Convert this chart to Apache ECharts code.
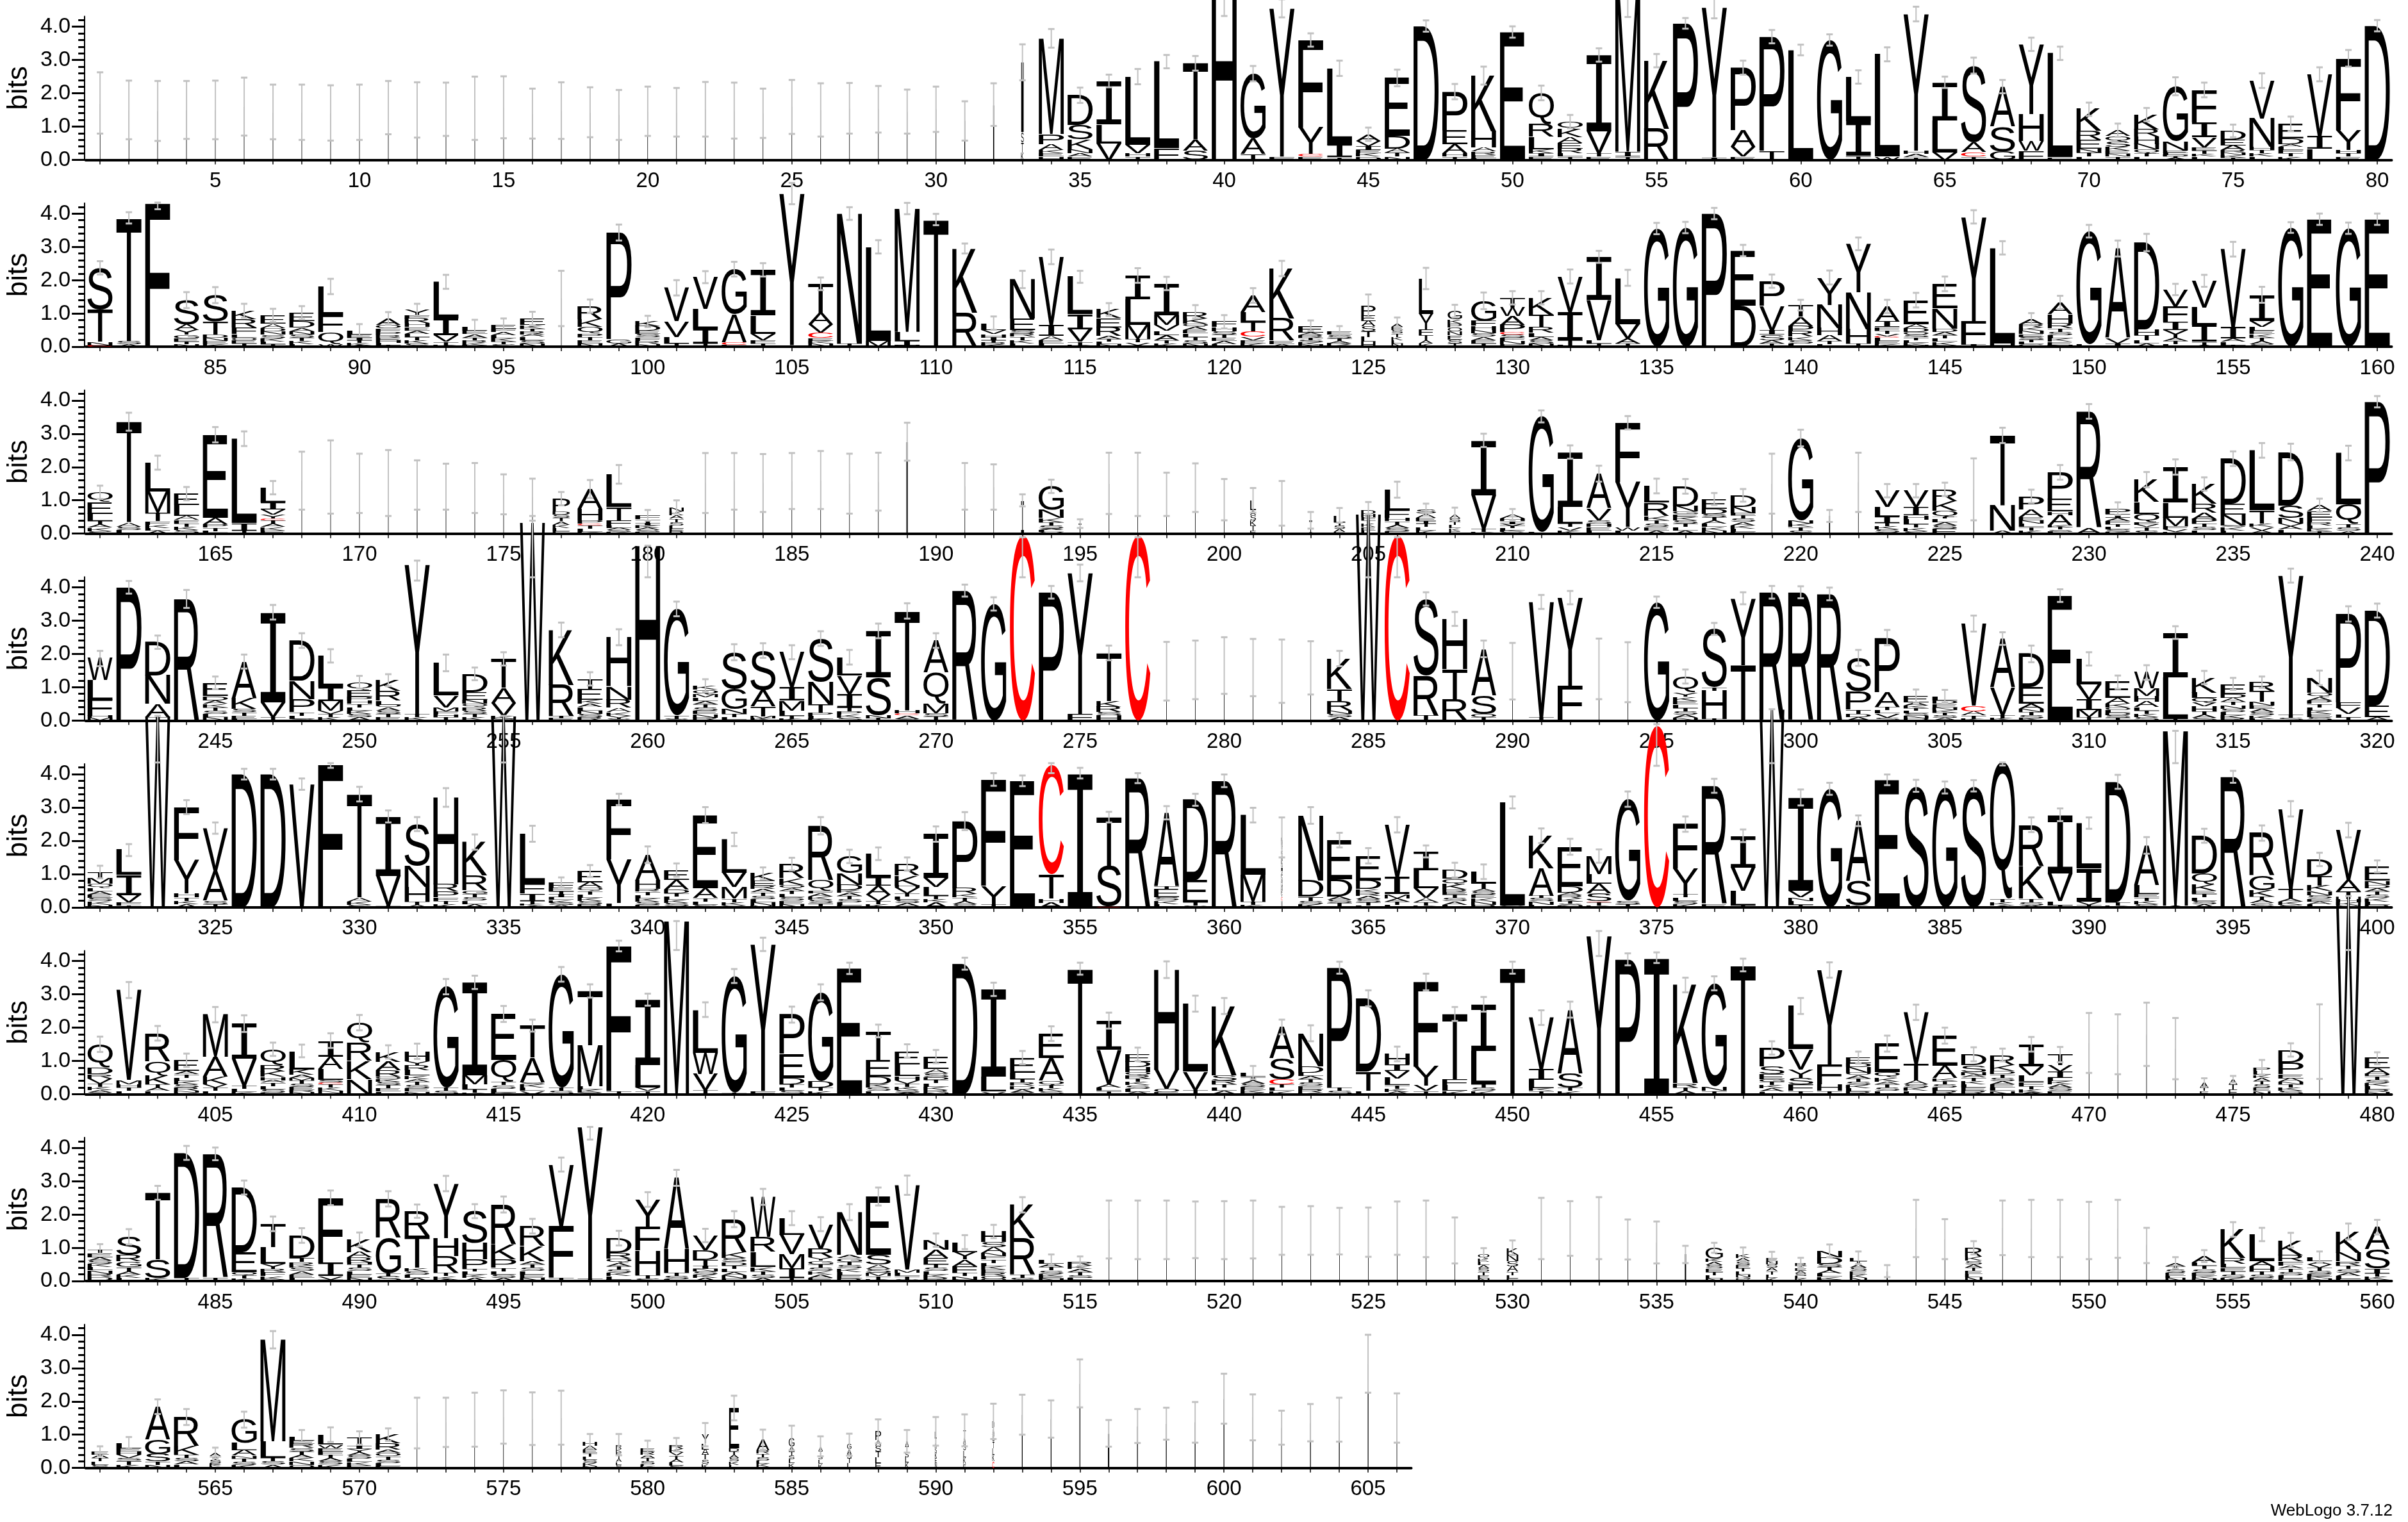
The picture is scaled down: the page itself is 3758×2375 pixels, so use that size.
<!DOCTYPE html>
<html><head><meta charset="utf-8">
<style>html,body{margin:0;padding:0;background:#fff}#c{width:3758px;height:2375px}</style>
<script src="https://cdn.jsdelivr.net/npm/echarts@6/dist/echarts.min.js"></script>
</head><body><div id="c"></div>
<script>
// Each column: letters top-to-bottom with height in bits; e = error half-width, h = explicit upper cap, w = column width fraction.
const row1 = ["I1.71e.92w.02","I1.5e.88w.02","I1.47e.9w.02","I1.5e.87w.02","I1.5e.88w.02","I1.6e.87w.02","I1.44e.82w.02","I1.43e.83w.02","I1.41e.83w.02","I1.43e.83w.02","I1.57e.8w.02","I1.5e.83w.02","I1.52e.8w.02","I1.55e.95w.02","I1.58e.93w.02","I1.39e.75w.02","I1.48e.85w.02","I1.43e.75w.02","I1.35e.75w.02","I1.46e.74w.02","I1.43e.73w.02","I1.52e.82w.02","I1.48e.84w.02","I1.4e.74w.02","I1.59e.81w.02","I1.5e.8w.02","I1.55e.76w.02","I1.52e.7w.02","I1.45e.66w.02","I1.52e.68w.02","I1.17e.59w.03","I1.66e.64w.04","I2.1S.3T.3K.23e.54w.09",
"M2.87P.3A.18K.1E.1H.1e.28","D.9S.42K.3N.12A.1E.1e.23","I1.3L.57V.5e.19","L2.05V.25H.1T.1e.23","L2.6F.35e.2","T2.3A.32S.28e.22","H5.15e.83h5.15","G1.95A.47T.17e.23","Y4.45F.1e.27","F2.62Y.8C.08E.1e.2","L2.3I.37T.08e.23","A.2V.15I.12E.1K.1D.1e.2","E1.74D.38A.12T.12N.1e.25","D4.02e.17","P1.15E.42A.28H.1T.1e.23","K1.67H.48A.13R.1E.1L.05e.27","E3.84e.17","Q.92R.4L.37K.12I.1E.1e.22","Q.22K.25A.17E.17R.14L.1T.1e.2","I2.3V.65T.1E.1e.2","M4.7I.15T.1e.66h5","K2.04R.94e.2","P4.1e.16","Y4.5I.08e.33","P1.87A.5V.3E.1e.21","P3.42T.28e.2","L3.3e.16","G3.6e.17","L1.32I1.05T.12e.2","L3.07W.1e.21","Y4.1H.1A.1T.08e.22","I1.15L.95V.23e.17","S2.3A.3C.13T.1e.24","A1.2S.75G.25e.2","Y2.1H.8W.3F.27e.2","L3.12E.08e.2","K.65R.27E.26N.12T.12L.1e.2","A.17Q.17S.15K.12E.1N.08T.1e.2","K.44R.22H.22N.16Q.12T.1L.1e.2","G1.65N.28E.07L.06D.05T.05A.05e.27","F.97I.45V.3E.1T.1K.08L.1e.22","D.27E.16A.14R.08N.08K.07T.07e.19","V1.13N.85H.1T.1K.1L.1e.22","E.44D.17A.07L.1F.1T.1K.1e.22","V1.87I.37L.33e.21","F2.15Y.6H.1T.1E.1e.25","D4.03e.17"];
const row2 = ["S1.25T.97N.1C.05e.2","T3.7S.1A.07e.17","F4.3e.17h4.33","S.73A.17Y.14G.1E.1T.08N.08e.24","S.78T.4D.1N.09E.1K.08e.24","K.25R.25F.2L.1O.08E.1T.1e.21","E.25A.13D.1N.1S.1K.1L.08T.08e.2","E.25D.2A.1N.1S.1T.1K.09L.08e.2","L.87F.5Q.36W.08e.23","L.13E.1I.08T.08K.06A.05e.18","A.2O.1F.1P.1R.08E.08H.08L.06T.05e.19","Y.16F.1R.14H.12E.1A.1L.1T.1K.1S.09e.18","L1.1I.5V.2T.1K.05e.21","L.13E.1A.1T.08R.08K.07F.05e.2","E.13F.1A.1L.1K.1T.08S.07e.17","E.2K.1T.08R.1A.07L.1S.1N.1e.2","I1.45e.83w.02","R.4K.22Q.2P.1T.1E.1N.1e.2","P3.2G.13A.1e.24","K.14D.14E.1S.1F.1R.1N.08e.17","V1V.47L.2T.1e.23","V.96L.58I.45T.1e.18","G1.35A.85C.08F.05e.22","I1.37L.55V.19F.1T.1e.2","Y4.55I.05e.32","T.87A.35V.25C.16E.08K.08N.1e.19","N3.9T.1e.19","L2.82M.18e.2","M3.7L.27I.13N.05e.17","T3.82e.17","K1.92R1.03e.15","L.2V.13H.1I.09T.07R.06K.06e.2","N1.17E.35S.1R.1T.1K.1L.1e.26","V2.05I.32A.13E.1L.1e.22","L1.12I.45V.38T.1K.05e.18","K.26E.28R.26A.09T.08L.07N.08e.19","I.72L.77M.42T.1V.08A.05e.22","I.96M.29V.17L.13A.15T.1K.1e.2","R.2K.15Q.1A.1E.1L.1T.1S.1N.1e.2",
"F.16H.12S.1T.1E.1A.09L.08e.2","A.5L.29T.29C.16V.1E.1K.1e.22","K1.5R.67E.1A.08e.23","E.2A.08R.08T.07S.07K.07N.06e.16","E.1S.1T.08A.08R.05K.05e.16","P.29E.16A.16S.16T.16L.15H.15e.34w.5","A.1E.1S.1T.1K.1L.1N.1e.18w.4","L1.06Y.48F.16T.15A.1K.1e.32w.5","G.24K.13P.12O.12N.12E.12S.12T.1e.19w.5","G.61F.14H.13N.1S.1A.1E.1T.1e.25","T.29W.26A.26P.22C.07S.1F.1N.1E.07e.2","K.5T.38R.16L.13A.1S.1N.1e.2","V1.06I.86T.14L.05e.21","I1.3V1.2L.1T.1e.18","L1.39V.43A.15T.1e.24","G3.55e.17","G3.58e.17","P4e.17","E1.65D1.24e.17","P.74V.74I.13S.16A.1T.1e.2","T.35A.28P.16R.16K.1S.1L.1e.16","Y.82N.7H.22A.16T.1L.08e.21","Y1.46N1.1H.43T.1e.19","A.46I.16F.1T.1V.08C.04L.1E.1K.07e.2","E.72A.13D.11O.08S.08T.08L.08K.07N.05e.22","E.74N.6D.1A.1T.1L.1K.1S.05e.22","Y3.14F.7I.06e.2","L2.87H.1e.2","A.15R.1K.1N.1E.08S.08T.08L.07G.07e.18","A.35H.28R.15T.1S.1L.1K.1E.1N.05e.2","G3.4L.07e.19","A2.7V.15I.1e.24","D2.6H.18T.15L.1A.1e.26","V.5F.47I.25Y.22A.1T.1L.08e.17","V.8L.53I.5T.1A.05e.18","V2.33I.35A.1L.1T.05e.22","I.78V.18L.12E.1K.1T.1A.1S.08e.24","G3.58e.16","E3.83e.17","G3.56e.17","E3.83e.17"];
const row3 = ["Q.29E.35L.22T.1A.1K.1S.08e.2","T3.02A.13S.1L.1K.01e.27","L.87M.64T.25F.1K.1L.07A.1e.21","E.34L.32A.13F.1T.1K.1S.1N.01e.2","E2.5A.19P.1T.1L.05K.03e.23","L2.53I.22T.1e.22","L.45I.2V.15Y.13C.05T.1A.1K.1E.1e.2","I1.59e.87w.02","I1.7e1.1w.02","I1.51e.89w.02","I1.52e.99w.02","I1.46e.74w.02","I1.41e.69w.02","I1.37e.75w.02","I1.18e.6w.02","I1.09e.56w.02","P.38D.1S.1T.1A.1K.1L.1E.07e.2w.6","A.6H.34P.1C.05T.1L.1K.05e.27","L.98T.4F.18L.06A.06S.05K.05e.28","F.12T.1I.08K.08A.07S.05E.05e.16","N.13K.12A.1T.1S.1L.1E.08R.07e.2w.5","I1.52e.9w.02","I1.57e.85w.02","I1.52e.87w.02","I1.58e.84w.02","I1.61e.87w.02","I1.5e.9w.02","I1.56e.87w.02","I2.76e.57w.05","","I1.42e.7w.02","I1.4e.68w.02","I1e.18w.1","G.7N.24K.13T.1S.1A.05L.05V.05e.2","I.3e.13w.1","I1.51e.92w.02","I1.48e.95w.02","I1.18e.65w.02","I1.38e.73w.02","I1.02e.62w.02","L.3A.15S.15K.15T.15E.1e.37w.2","I.91e.67w.02","I.4e.25w.1","L.2T.1S.1A.1E.05e.22w.4","D.13H.1F.1T.1K.1E.1L.1e.22w.5","L.63F.22H.1T.1A.1S.1E.07e.24","S.12A.12E.1I.08T.1L.1K.1e.18w.7","A.12S.1T.1L.1K.08E.08e.2w.4","I1.65V1T.1K.05e.2","A.12H.08I.08V.07T.06L.06K.05S.05e.17","G3.47L.05e.18","I1.65L.5T.1V.1K.1e.2","A1.05V.35S.1H.1E.1L.1e.24","F1.78Y1.35W.1L.1e.2","L.5R.4K.13T.1S.1E.1A.1e.22","D.6N.16G.08E.08K.1S.1T.1L.1A.1e.22","E.29D.15S.1T.1A.1L.1K.1N.1e.18","D.35N.19F.06T.1S.1A.1K.1L.1E.05e.19","I1.5e.9w.02","G2.47N.1K.1T.1S.1e.25","I.53e.18w.04","I1.54e.89w.02","V.48L.29I.19T.1K.1S.1E.03e.2","V.48I.26H.13L.14T.1K.1S.08e.2","R.35K.29Q.19T.05L.1A.1S.1E.15e.2","I1.33e.93w.02","T2.1N.75A.1e.23","P.4A.22E.1N.1L.1T.1K.1e.2","P.8E.38H.1A.32K.06T.06S.06L.06e.22","R3.5A.15S.02e.22","P.15I.12A.1F.1T.08L.08S.07K.05e.19","K.67L.35Q.26F.08V.06T.1S.1e.23","I1.07L.45M.26F.1V.07K.05e.23","K.6R.26A.19P.14T.1S.1L.1e.2","D1.36E.32N.32S.05K.1L.1e.22","L1.8T.4K.1V.1A.08S.02e.22","D1.6S.38N.16V.08A.1L.13e.25","A.17E.18F.15R.1L.1K.08T.07e.2","L1.54Q.6T.1S.1A.08e.22","P3.96e.17"];
const row4 = ["W.65L.58F.48H.07M.08e.23","P4e.19","D1N.85A.4T.1e.2","R3.65e.27","E.4D.13A.1K.1T.1S.1L.1N.1e.19","A1.1K.32S.1T.1E.1L.05e.21","I2.7V.45T.1e.22","D1.2N.55P.4T.1L.1S.05e.22","L.93I.42M.29V.1T.1K.1e.2","Q.23E.2P.12H.1T.1L.1K.1S.1A.1e.19","K.32R.29L.13O.07A.1S.1T.1E.1e.18","Y4.48T.1K.1e.48h4.8","L.98V.35M.13F.1H.07T.1e.25","D.55E.22N.13Q.1R.1S.1T.1K.1e.19","T.87A.45V.38K.1S.05e.2","W5.95e1.65h6","K1.65R.93T.08E.06e.22","T.3E.32K.13A.1L.1N.1S.1R.1e.2","H1.47N.4R.25A.13K.1Y.1S.05e.24","H5.25e.95h5.25","G3.2T.1S.05e.22","K.13Q.13M.1L.1A.1T.1S.1E.1N.1R.09e.19","S1.1G.6N.15T.1L.07K.03e.24","S1.18A.5T.3M.06K.06e.22","V1.05I.4M.3L.15T.1K.05e.21","S1.3N.67T.25P.1L.1K.04e.22","L.55V.55I.4T.12P.1K.1S.08e.22","I1.4S1.12N.1T.07e.22","T2.98H.1C.06A.1S.05e.23","A.96Q.93M.29S.1T.1K.02e.22","R3.9e.18","G3.5e.2","C5.55e1.25h5.5","P3.85e.19","Y4.23F.2e.25","T1.45K.17R.16S.1H.15e.22","C5.55e1.25h5.5","I1.48e.88w.02","I1.52e.88w.02","I1.65e.85w.02","I1.59e.86w.02","I1.48e.95w.02","I1.58e.8w.02","K.92T.35R.29N.1S.1A.1e.23","W6.2e1.9h6.2","C5.55e1.25h5.5","S2.3R1.2T.15e.2","H1.5T.9R.65e.21","A1.4S.55O.1T.1e.25","I1.48e.85w.02","V3.46T.1e.21","Y2.66F1.03e.2","I1.55e.91w.02","I1.45e.9w.02","G3.55e.17","Q.48Y.13K.13E.1L.1T.1S.1A.1N.08e.21","S1.75T.1H.85T.05e.18","Y2T1.67e.18","R3.85e.19","R3.85e.18","R3.8e.19","S1P.55T.13D.1A.1e.24","P1.63A.45T.1L.1V.13S.08e.23","E.19A.1K.07T.08L.08S.07N.07D.07e.2","L.13D.1E.1N.08K.08T.08S.08A.08e.19","V2.47C.16A.13T.1K.05e.24","A1.47V.83T.1K.06e.19","D1E.5A.14N.1T.1S.1K.06e.25","E3.75e.19","L.76V.45I.32M.22T.1e.2","E.48A.16K.11O.08L.08D.08S.08T.08e.2","W.48M.22H.18A.16L.1T.1K.1S.1e.22","I1.34L1.25T.05e.19","K.45L.16Q.14V.12H.14T.1A.1S.08e.2","E.3D.12A.12T.1N.1S.1L.1K.1R.06e.18","R.26T.32N.12E.1A.1S.1K.1L.05e.17","Y4.17T.1S.08e.21","N.45Q.13A.1P.1T.1L.1K.1E.1S.1e.22","P2.66F.16V.19L.1T.09e.23","D2.85E.35A.1e.21"];
const row5 = ["T.19M.16Q.13L.1A.1E.1S.1K.1N.08e.19","L.75I.6V.22F.1T.05e.18","W5.75e1.4h5.75","F1.58Y1H.13T.1K.1A.1e.21","V1.28A.9S.1T.1e.17","D4e.16","D4e.16","V3.7e.17","F4.28e.09h4.33","T3.1A.13K.1S.07e.22","I1.78V.9T.05e.18","S1.24N.64H.45T.1A.07e.21","H2.6R.22P.18F.1T.1K.1e.28","K1R.45G.11T.1S.1L.1A.1e.23","W5.75e1.4h5.75","L1.5F.29I.22T.1K.05A.05e.24","F.15E.12T.09I.09L.08K.08S.07A.07e.15","E.34A.16Q.1T.1L.1K.1S.1R.09e.18","F1.8Y1.31L.13e.17","A.77H.26R.08T.1L.1K.1S.1E.07e.25","E.29A.29D.11T.1L.1K.1S.1R.03e.2","E2.2A.29T.1L.1S.08e.24","L1V.43M.35T.1K.1S.06e.2","K.22E.15R.1A.1T.1S.1L.1N.1M.05e.18","R.42K.2Q.1A.08T.1L.1S.1E.1N.1e.19","R1.63Q.32F.07A.1K.1S.1T.13e.26","G.5N.35D.16K.07A.1T.1S.1L.1E.05e.2","L.7I.26A.26V.19T.1K.1e.19","R.35K.29H.07V.16T.1L.1S.1A.1N.03e.2","I1.32V.26L.27T.1K.1A.15e.23","P2R.19K.1T.1A.1S.1e.27","F3.19Y.55T.1e.19","E3.8e.16","C3.27T.73H.13A.14e.24h4.33","I4.03e.16","T1.46S1.22C.03e.16","R3.88e.15","A2.2T.1E.24S.1K.1L.1e.2","D2.43E.65T.1S.05e.18",
"R3.8e.19","L1.8M.8T.1K.07e.22","L.1D.1S.1T.1K.1A.1N.1E.1G.1I.1V.1P.1Q.1R.1M.1H.1F.1Y.1C.1W.2e.6w.05","N1.95D.48T.13S.1K.1e.25","E1.18D.51A.1S.1T.1K.03e.22","E.74D.26K.1R.1A.1S.1T.1L.05e.23","V1.57I.51M.13A.1T.1L.07e.23","I.56L.55V.29A.13T.1K.05e.18","D.26Q.16K.16R.08E.08T.1S.1A.1L.08e.22","L.35T.16A.08S.1E.1K.1N.1R.08e.22","L3.1S.05e.18","K.98A.83T.06S.1N.1L.08e.22","E1.18D.19A.08R.1K.1T.06S.06N.05e.24","M.54L.29A.29S.24C.03T.1K.05e.2","G3.05S.1T.1e.23","C5.45e1.2h5.5","F1.35Y.75T.1L.1S.1K.1e.23","R3.55E.1e.21","I.95V.7L.45T.05e.19","W5.95e1.62h5.95","I2.8V.2N.1L.13T.07e.24","G3.56e.18","A1.8S.74K.06e.16","E3.83e.16","S3.65e.18","G3.6e.18","S3.65e.17","Q4.1T.1K.1A.05e.09h4.35","R1.25K.97T.1S.1A.06e.22","I1.76V.83L.13T.06e.19","L1.36I1V.1T.07e.17","D3.62T.1K.05e.21","A1.2L.26E.1T.1K.1S.1e.25","M5.25A.05e.97h5.3","D1.14Q.32K.19E.1T.1L.1S.1A.1e.21","R3.92e.18","R1.28G.43K.19T.1A.1S.13e.23","V2.4T.29A.1K.1S.07e.23","D.5T.29K.16N.13S.1E.08A.08L.1e.2","V1.5A.35T.22H.1K.1S.05e.22","E.42N.13D.1A.1T.1S.1K.1L.1R.08e.18"];
const row6 = ["Q.7D.2R.13V.15T.1K.1A.07S.05e.23","V2.7M.13H.1T.1L.1e.24","R.85Q.42K.26T.1A.1L.1e.22","E.32A.1T.1L.1K.1S.1R.1N.05D.05e.2","M1.27A.6K.22V.1T.1L.1e.23","I1.06V.8T.1L.1K.06e.25","Q.48R.19K.16H.1A.07T.1L.1S.1E.05e.2","L.55K.16A.1M.07T.1S.1E.1R.05N.07e.19","I.48A.38L.32S.08C.05T.1K.1N.07R.03e.22","Q.6R.55K.55N.45e.23","K.29A.26R.19O.07K.08S.1T.1E.1L.08e.2","H.29Y.13R.15L.16K.1A.08T.1S.1E.1N.08e.23","G3.03T.1S.1e.23","I2.8M.26L.15T.1K.05e.2","E1.38Q.66T.1S.1L.12K.05e.24","T.96A.74S.06K.1L.1V.1e.18","G3.4T.1S.1e.22","T1.63M1.22L.1K.1S.05e.2","F4.35T.1e.16","I1.97L.67V.1T.1e.18","M5.2e.87h5.2","L1.29W.64V.48T.1K.03e.22","G3.5T.05e.21","Y4.4F.1e.2","P1.17E.72D.2T.1L.1S.1e.24","G2.66D.2T.1K.1e.24","E3.78e.17","T.9E.48D.22K.1S.1L.1e.19","E.4L.35H.13V.1T.1K.1S.07A.05e.2","E.37A.13S.12D.08T.1L.1K.1R.08N.05e.2","D3.92e.18","I2.63L.44V.08e.2","E.45L.2T.1R.1D.1A.1S.05e.2","E.74A.67Q.13T.1K.1S.08e.22","T3.77e.18","I.88V1.03A.1L.1T.1e.24","E.22D.16H.15Q.1R.1T.1K.1S.1L.1A.07e.2","H3V.58O.1E.06e.25","L2.04V.55T.1E.03e.24","K2.08S.16R.11T.1L.1A.1e.24","L.13T.1A.1S.1E.1K.07R.05e.2","A.93S.64C.15T.1L.1K.1e.22","N.99D.19L.1A.1T.1S.1E.1R.1K.05e.24","P3.6T.1S.1e.18","D2.2T.58L.1e.24","H.32I.19V.22L.21T.1K.1A.07e.22","F2.53Y.58V.16T.1e.25","T1.95F.2L.16K.1e.21","I1.4L1T.1S.1K.1e.22","T3.8e.18","V1.54I.32L.26K.08T.1e.22","A1.92S.42T.1K.1e.24","Y4.75e.6h4.9","P4.05e.18","I4.1e.16","K2.95R.13T.1A.1e.22","G3.1N.13T.1e.21","T3.88e.19","P.56S.22E.15G.08T.1K.1A.1L.08e.2","L1.3V.6Y.25S.2F.2T.1e.24","Y2.83F.6H.2T.1e.23","E.16D.13N.16O.07A.1T.1S.1K.1L.1R.08e.18","E.85Q.16K.13A.08T.1S.1L.1e.24","V1.54T.5A.12S.1K.1L.1e.23","E.9A.38K.08T.1S.1L.1R.1e.24","D.32S.21N.1A.07T.1K.1L.1E.1R.1e.21","R.3K.18D.1T.1S.1A.1E.1L.1N.1e.19","I.67V.26L.19F.13T.1K.1A.05e.22","T.32V.19I.18L.1K.1A.1S.1E.1e.23","I1.54e.9w.02","I1.5e.9w.02","I1.8e.95w.02","I1.37e.92w.02","A.15T.1E.1e.13w.3","A.15T.15E.15e.1w.3","P.1L.13K.08A.1T.1S.1E.1N.1e.22w.6","D.37P.35E.13A.11N.07T.1K.1S.1e.2","I1.58e1.12w.02","W5.95e1.62h5.95","E.31A.16D.07T.1S.1K.1L.1R.08N.06e.18"];
const row7 = ["T.1E.13A.1S.1K.1L.1N.1R.1D.1G.02e.16","S.55R.19G.16T.13A.1K.1L.1e.23","T2S.55K.1e.21","D3.75T.1e.21","R3.72T.1e.19","D1.95E.58Q.1T.1K.08e.21","T.7L.5Y.15R.1F.12K.1S.05e.22","D.67T.13R.1K.07S.1A.1E.1L.1e.22","F1.95I.4V.1T.05e.22","K.38A.16R.15H.06T.1S.1L.1E.1N.1e.21","R1.17G1.06T.1S.14e.23","R.74T.96K.1S.1L.1A.1e.2","Y1.63H.55R.5T.1K.1A.05e.23","S.96H.48P.29T.07L.1K.1A.1e.21","R1.2K.45P.25T.1L.1S.1A.1e.24","R.6K.45A.1T.1S.1L.1E.1N.1e.22","V1.86F1.54T.1e.21","Y4.55T.08e.38h4.63","D.45R.16Q.13A.1T.1S.1K.1L.1E.05e.22","Y.83F.7H.74T.1S.08e.22","A2.15H.7T.1S.1L.05e.24","V.45D.29T.16I.1N.07S.1K.1A.1e.2","R1K.16S.13D.1T.1L.1A.1N.1E.07e.24","W1.2R.45L.45K.13T.1S.1A.1e.24","L.5V.58M.42I.29T.1e.21","V.74R.26Y.1G.11T.1S.1K.1A.1E.1e.21","N1.28A.1G.11T.1S.1K.1L.1E.1R.08e.24","E1.75S.3A.12S.12M.1T.1K.05e.27","V2.53M.1L.1T.1S.05e.29","N.29A.25E.19T.1S.1L.1K.1R.1e.2","L.3Y.22A.2F.2T.1N.1S.05e.21","H.32S.16A.16N.1F.1T.1L.1K.1E.1R.1O.09Q.06e.2","K1R1.09T.1S.1e.23","L.13A.1T.1S.1K.08E.07N.07e.15","R.13K.1A.1T.1S.07L.05E.05e.14","I1.55e.87w.02","I1.54e.88w.02","I1.54e.88w.02","I1.54e.85w.02","I1.53e.87w.02","I1.55e.87w.02","I1.51e.72w.02","I1.52e.73w.02","I1.5e.7w.02","I1.47e.74w.02","I1.59e.8w.02","I1.57e.85w.02","I1.22e.69w.02","Q.12K.1L.1A.1S.1T.1E.1N.08e.19w.4","K.2N.2S.16A.16T.1L.1E.08e.22w.4","I1.58e.92w.02","I1.58e.82w.02","I1.59e.93w.02","I1.25e.6w.02","I1.16e.63w.02","I.8e.26w.05","G.32K.1A.1S.1E.1T.1L.1N.08e.15w.6","K.12A.1S.1E.1T.1L.1N.08G.06D.05e.2w.5","E.1N.1S.1A.1T.1L.1K.1e.18w.4","R.08T.08E.08A.08S.08L.08K.07e.15w.4","N.19D.19S.1T.1A.1L.1K.08E.05e.19","L.1T.1A.1S.1E.1K.1N.1e.19w.6","I.3e.18w.04","I1.58e.86w.02","I1.26e.6w.02","R.27K.12S.1A.1T.1E.1L.1N.11e.2w.6","I1.6e.82w.02","I1.58e.86w.02","I1.58e.86w.02","I1.52e.86w.02","I1.57e.87w.02","I1.07e.53w.02","A.1T.1S.1E.1L.05N.1e.17w.7","A.19L.1T.1S.1E.1K.08N.08e.18","K.85R.18L.12E.1T.1S.1K.1e.22","L.8A.15H.15T.1S.1E.1e.2","K.45R.19F.13A.08T.1S.1L.1E.08e.22","L.13A.08V.1T.1S.1E.07K.07N.07e.17","K.64N.26R.13T.1S.1A.1L.1E.06e.24","A.67S.58I.13T.1K.1L.04e.22"];
const row8 = ["E.1A.1T.1L.1S.1e.15w.6","L.15E.1H.1V.1S.08T.12K.1e.18","A.99G.43S.22T.1N.1e.22","R.87K.26T.1S.1A.1L.1e.24","A.1T.1S.1E.05K.05L.05e.16w.4","G.7L.22A.16N.08T.1S.1K.09e.24","M3.05L.5T.1S.1A.1e.26","L.13E.1R.13S.1T.1A.1K.1N.1Q.1e.18","L.3W.1E.1F.1T.1A.1S.1K.1e.22","T.22I.1Y.1A.1S.1L.1K.1E.08e.2","K.26R.19A.1O.1T.1S.1L.1E.05e.19","I1.35e.76w.02","I1.37e.74w.02","I1.45e.81w.02","I1.53e.8w.02","I1.48e.79w.02","I1.51e.81w.02","H.13A.12E.1T.1L.1S.1K.1N.05e.22w.5","R.12K.1E.1T.1A.1L.08S.1e.32w.2","E.1R.1A.1T.1S.1L.05K.05e.22w.5","R.13K.1V.1T.1A.1L.09S.08e.2w.5","Y.26L.18A.16T.14S.13K.13e.35w.25","E1.2D.1T.1A.1S.1K.1L.1e.37w.35","A.32R.1T.1S.1L.1K.1E.03e.3w.45","G.26A.14T.12S.12L.12K.12E.02e.37w.2","A.13T.13S.13L.13K.13e.3w.15","G.14A.14S.14T.14L.14e.33w.15","P.26A.18S.17T.17L.17E.15e.36w.2","A.16T.16S.16L.16K.16e.34w.12","L.2T.15A.15S.15K.15E.15N.15e.43w.07","T.2A.2S.2L.2K.2E.13e.48w.09","D.2A.2S.2T.2L.2K.2C.2e.53w.07","I1.6e.6w.03","I1.47e.56w.03","I2.54e.72w.03","I1.04e.4w.05","I1.26e.51w.03","I1.33e.48w.03","I1.37e.61w.03","I2.08e.75w.03","I1.52e.69w.02","I1.21e.51w.02","I1.36e.56w.03","I1.45e.66w.03","I3.13e.87w.03","I1.5e.74w.02"];
const rowStartPositions = [1, 81, 161, 241, 321, 401, 481, 561];
const yTickLabels = [0, 1, 2, 3, 4];
const RED_LETTER = "C";
const ALPHABET = "ACDEFGHIKLMNOPQRSTVWY".split("");
const rows = [row1, row2, row3, row4, row5, row6, row7, row8];

function parseColumn(s) {
  const letters = [];
  const re = /([A-Z])(\d*\.?\d+)/g;
  let m;
  while ((m = re.exec(s))) letters.push([m[1], parseFloat(m[2])]);
  const f = k => { const r = new RegExp(k + "(\\d*\\.?\\d+)").exec(s); return r ? parseFloat(r[1]) : null; };
  return { letters, e: f("e"), h: f("h"), w: f("w") };
}

// glyph ink metrics, measured the way zrender draws text (textBaseline middle)
const FS = 200;
const measureCtx = document.createElement("canvas").getContext("2d");
const metricCache = {};
function fontFor(letter, w) { return (letter === "I" && w >= 0.1) ? "'Liberation Mono'" : "'Liberation Sans'"; }
function metrics(letter, fam) {
  const key = letter + fam;
  if (metricCache[key]) return metricCache[key];
  measureCtx.font = FS + "px " + fam;
  measureCtx.textBaseline = "middle";
  measureCtx.textAlign = "left";
  const t = measureCtx.measureText(letter);
  return metricCache[key] = { l: t.actualBoundingBoxLeft, r: t.actualBoundingBoxRight, a: t.actualBoundingBoxAscent, d: t.actualBoundingBoxDescent };
}

function renderLetter(params, api) {
  const i = api.value(0), y0 = api.value(1), y1 = api.value(2), wf = api.value(3);
  const letter = ALPHABET[api.value(4)];
  const pb = api.coord([i, y0]), pt = api.coord([i, y1]);
  const band = api.size([1, 0])[0];
  const bw = band * wf;
  const h = pb[1] - pt[1];
  if (h <= 0) return null;
  const fam = fontFor(letter, wf);
  const mt = metrics(letter, fam);
  const sx = bw / (mt.l + mt.r), sy = h / (mt.a + mt.d);
  return {
    type: "text", silent: true,
    x: pb[0] - bw / 2 + mt.l * sx, y: pt[1] + mt.a * sy,
    scaleX: sx, scaleY: sy,
    style: { text: letter, fontSize: FS, fontFamily: fam, fill: letter === RED_LETTER ? "#ff0000" : "#000", align: "left", verticalAlign: "middle" }
  };
}
function renderError(params, api) {
  const i = api.value(0);
  const a = api.coord([i, api.value(1)]), b = api.coord([i, api.value(2)]);
  const cap = 10;
  const st = { stroke: "#c2c2c2", lineWidth: 2 };
  const cs = { stroke: "#c2c2c2", lineWidth: 3 };
  return { type: "group", silent: true, children: [
    { type: "line", shape: { x1: a[0], y1: a[1], x2: b[0], y2: b[1] }, style: st },
    { type: "line", shape: { x1: a[0] - cap / 2, y1: a[1], x2: a[0] + cap / 2, y2: a[1] }, style: cs },
    { type: "line", shape: { x1: b[0] - cap / 2, y1: b[1], x2: b[0] + cap / 2, y2: b[1] }, style: cs }
  ]};
}

const BAND = 45, GRID_LEFT = 132.5, GRID_H = 224, FIRST_BASE = 249.5, ROW_STEP = 291.6, YMAX = 4.31;
const grid = [], xAxis = [], yAxis = [], series = [];
rows.forEach((row, ri) => {
  const base = FIRST_BASE + ROW_STEP * ri;
  grid.push({ left: GRID_LEFT, top: base - GRID_H, width: BAND * row.length, height: GRID_H, containLabel: false });
  xAxis.push({
    gridIndex: ri, type: "category", data: row.map((_, k) => String(rowStartPositions[ri] + k)),
    boundaryGap: true,
    axisLine: { show: true, onZero: false, lineStyle: { color: "#000", width: 4 } },
    axisTick: { show: true, alignWithLabel: true, interval: 0, length: 7, lineStyle: { color: "#000", width: 1.5 } },
    axisLabel: { show: true, interval: (idx, v) => Number(v) % 5 === 0, color: "#000", fontSize: 33, fontFamily: "'Liberation Sans'", margin: 17, hideOverlap: false },
    splitLine: { show: false }
  });
  yAxis.push({
    gridIndex: ri, type: "value", min: 0, max: YMAX, interval: 1, offset: 1.5,
    name: "bits", nameLocation: "middle", nameGap: 75, nameRotate: 90,
    nameTextStyle: { color: "#000", fontSize: 44, fontFamily: "'Liberation Sans'" },
    axisLine: { show: true, lineStyle: { color: "#000", width: 2 } },
    axisTick: { show: true, length: 20, customValues: yTickLabels, lineStyle: { color: "#000", width: 3 } },
    minorTick: { show: true, splitNumber: 5, length: 10, lineStyle: { color: "#000", width: 3 } },
    axisLabel: { show: true, customValues: yTickLabels, formatter: v => Number(v).toFixed(1), color: "#000", fontSize: 34, fontFamily: "'Liberation Sans'", margin: 22 },
    splitLine: { show: false }, minorSplitLine: { show: false }
  });
  const letterData = [], errData = [];
  row.forEach((tok, k) => {
    if (!tok) return;
    const c = parseColumn(tok);
    const wf = c.w == null ? 0.87 : c.w;
    let y = 0;
    for (let j = c.letters.length - 1; j >= 0; j--) {
      const [L, v] = c.letters[j];
      letterData.push([k, y, y + v, wf, ALPHABET.indexOf(L)]);
      y += v;
    }
    if (c.e != null) errData.push([k, y - c.e, c.h != null ? c.h : y + c.e]);
  });
  series.push({ type: "custom", xAxisIndex: ri, yAxisIndex: ri, renderItem: renderLetter, data: letterData, clip: false, silent: true, animation: false, z: 2 + ri * 2, encode: { x: 0, y: 2 } });
  series.push({ type: "custom", xAxisIndex: ri, yAxisIndex: ri, renderItem: renderError, data: errData, clip: false, silent: true, animation: false, z: 3 + ri * 2, encode: { x: 0, y: 2 } });
});

const chart = echarts.init(document.getElementById("c"), null, { renderer: "canvas", width: 3758, height: 2375 });
chart.setOption({
  backgroundColor: "#fff", animation: false, tooltip: { show: false },
  title: { text: "WebLogo 3.7.12", right: 24, top: 2345, itemGap: 0, padding: 0, textStyle: { color: "#000", fontSize: 26, fontWeight: "normal", fontFamily: "'Liberation Sans'" } },
  grid, xAxis, yAxis, series
});
</script></body></html>
